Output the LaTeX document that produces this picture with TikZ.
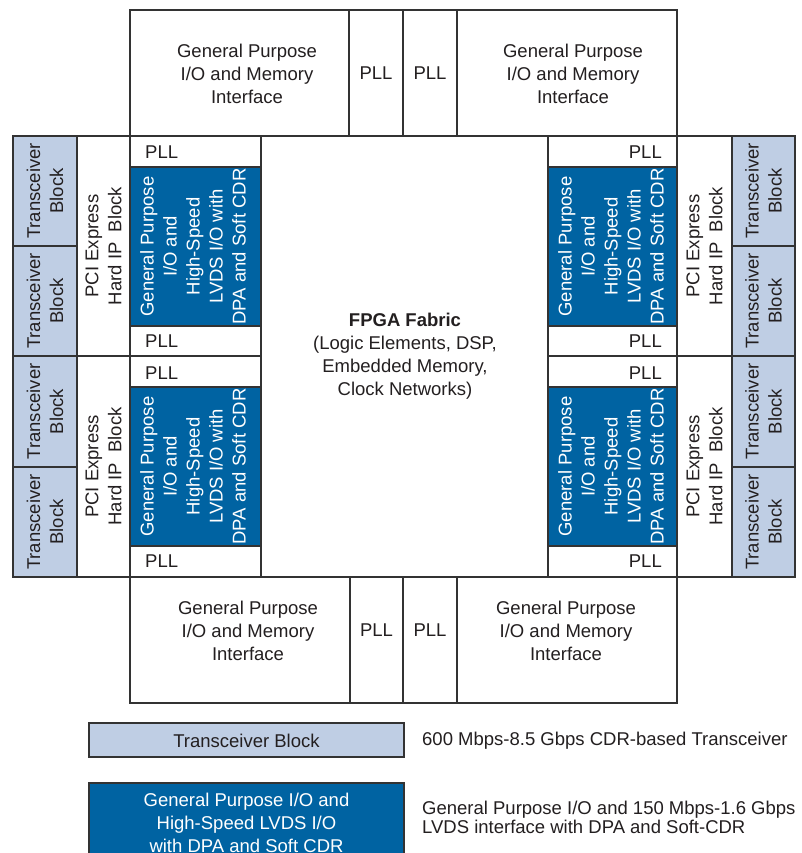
\documentclass[tikz,border=0pt]{standalone}
\usepackage{fontspec}
\setmainfont{Liberation Sans}
\definecolor{lineC}{HTML}{333333}
\definecolor{txtC}{HTML}{231F20}
\definecolor{dpaBlue}{HTML}{0063A2}
\definecolor{xcvrBlue}{HTML}{BFCEE4}
\tikzset{
  box/.style={draw=lineC, line width=1.3pt, rectangle, inner sep=0pt, fill=white},
  xcvr/.style={box, fill=xcvrBlue},
  dpa/.style={box, fill=dpaBlue},
  lbl/.style={inner sep=0pt, text=txtC, align=center, font=\fontsize{18.5}{23}\selectfont},
  wlbl/.style={lbl, text=white},
  rlbl/.style={lbl, rotate=90},
  rwlbl/.style={wlbl, rotate=90},
}
\begin{document}
\begin{tikzpicture}[x=1pt, y=-1pt]
\useasboundingbox (0,0) rectangle (801,853);
\fill[white] (0,0) rectangle (801,853);

% ---- top block
\node[box, minimum width=219pt, minimum height=126pt] (tgl) at (239.5,73) {};
\node[box, minimum width=54pt, minimum height=126pt] (tp1) at (376,73) {};
\node[box, minimum width=54pt, minimum height=126pt] (tp2) at (430,73) {};
\node[box, minimum width=220pt, minimum height=126pt] (tgr) at (567,73) {};
\node[lbl] (tglt) at (247,74) {General Purpose\\I/O and Memory\\Interface};
\node[lbl] (tp1t) at (376,73) {PLL};
\node[lbl] (tp2t) at (430,73) {PLL};
\node[lbl] (tgrt) at (573,74) {General Purpose\\I/O and Memory\\Interface};

% ---- bottom block
\node[box, minimum width=220pt, minimum height=126pt] (bgl) at (240,640) {};
\node[box, minimum width=53pt, minimum height=126pt] (bp1) at (376.5,640) {};
\node[box, minimum width=54pt, minimum height=126pt] (bp2) at (430,640) {};
\node[box, minimum width=220pt, minimum height=126pt] (bgr) at (567,640) {};
\node[lbl] (bglt) at (248,631) {General Purpose\\I/O and Memory\\Interface};
\node[lbl] (bp1t) at (376.5,630) {PLL};
\node[lbl] (bp2t) at (430,630) {PLL};
\node[lbl] (bgrt) at (566,631) {General Purpose\\I/O and Memory\\Interface};

% ---- left transceivers
\node[xcvr, minimum width=64pt, minimum height=110pt] (lx1) at (45,191) {};
\node[xcvr, minimum width=64pt, minimum height=110pt] (lx2) at (45,301) {};
\node[xcvr, minimum width=64pt, minimum height=111pt] (lx3) at (45,411.5) {};
\node[xcvr, minimum width=64pt, minimum height=110pt] (lx4) at (45,522) {};
\foreach \n/\y in {lx1/191,lx2/301,lx3/411.5,lx4/522}
  \node[rlbl] (\n t) at (45,\y) {Transceiver\\Block};

% ---- left PCIe
\node[box, minimum width=53pt, minimum height=220pt] (lpa) at (103.5,246) {};
\node[box, minimum width=53pt, minimum height=221pt] (lpb) at (103.5,466.5) {};
\node[rlbl] (lpat) at (103.5,246) {PCI Express\\Hard IP\ \ Block};
\node[rlbl] (lpbt) at (103.5,466.5) {PCI Express\\Hard IP\ \ Block};

% ---- left PLL / DPA columns
\node[box, minimum width=131pt, minimum height=31pt] (lq1) at (195.5,151.5) {};
\node[dpa, minimum width=131pt, minimum height=159pt] (ld1) at (195.5,246.5) {};
\node[box, minimum width=131pt, minimum height=30pt] (lq2) at (195.5,341) {};
\node[box, minimum width=131pt, minimum height=31pt] (lq3) at (195.5,371.5) {};
\node[dpa, minimum width=131pt, minimum height=159pt] (ld2) at (195.5,466.5) {};
\node[box, minimum width=131pt, minimum height=31pt] (lq4) at (195.5,561.5) {};
\foreach \n/\y in {lq1/152,lq2/341,lq3/373,lq4/561}
  \node[lbl, anchor=west] (\n t) at (145,\y) {PLL};
\node[rwlbl] (ld1t) at (193,246.5) {General Purpose\\I/O and\\High-Speed\\LVDS I/O with\\DPA and Soft CDR};
\node[rwlbl] (ld2t) at (193,466.5) {General Purpose\\I/O and\\High-Speed\\LVDS I/O with\\DPA and Soft CDR};

% ---- right PLL / DPA columns
\node[box, minimum width=129pt, minimum height=31pt] (rq1) at (612.5,151.5) {};
\node[dpa, minimum width=129pt, minimum height=159pt] (rd1) at (612.5,246.5) {};
\node[box, minimum width=129pt, minimum height=30pt] (rq2) at (612.5,341) {};
\node[box, minimum width=129pt, minimum height=31pt] (rq3) at (612.5,371.5) {};
\node[dpa, minimum width=129pt, minimum height=159pt] (rd2) at (612.5,466.5) {};
\node[box, minimum width=129pt, minimum height=31pt] (rq4) at (612.5,561.5) {};
\foreach \n/\y in {rq1/152,rq2/341,rq3/373,rq4/561}
  \node[lbl, anchor=east] (\n t) at (662,\y) {PLL};
\node[rwlbl] (rd1t) at (611,246.5) {General Purpose\\I/O and\\High-Speed\\LVDS I/O with\\DPA and Soft CDR};
\node[rwlbl] (rd2t) at (611,466.5) {General Purpose\\I/O and\\High-Speed\\LVDS I/O with\\DPA and Soft CDR};

% ---- right PCIe
\node[box, minimum width=55pt, minimum height=220pt] (rpa) at (704.5,246) {};
\node[box, minimum width=55pt, minimum height=221pt] (rpb) at (704.5,466.5) {};
\node[rlbl] (rpat) at (704.5,246) {PCI Express\\Hard IP\ \ Block};
\node[rlbl] (rpbt) at (704.5,466.5) {PCI Express\\Hard IP\ \ Block};

% ---- right transceivers
\node[xcvr, minimum width=63pt, minimum height=110pt] (rx1) at (763.5,191) {};
\node[xcvr, minimum width=63pt, minimum height=110pt] (rx2) at (763.5,301) {};
\node[xcvr, minimum width=63pt, minimum height=111pt] (rx3) at (763.5,411.5) {};
\node[xcvr, minimum width=63pt, minimum height=110pt] (rx4) at (763.5,522) {};
\foreach \n/\y in {rx1/191,rx2/301,rx3/411.5,rx4/522}
  \node[rlbl] (\n t) at (763.5,\y) {Transceiver\\Block};

% ---- fabric
\node[lbl] (fab) at (405,356) {\textbf{FPGA Fabric}\\(Logic Elements, DSP,\\Embedded Memory,\\Clock Networks)};

% ---- legend
\node[xcvr, minimum width=315pt, minimum height=34pt] (lg1) at (246.5,740) {};
\node[lbl] (lg1t) at (246.5,741) {Transceiver Block};
\node[dpa, minimum width=315pt, minimum height=80pt] (lg2) at (246.5,823) {};
\node[wlbl] (lg2t) at (246.5,823) {General Purpose I/O and\\High-Speed LVDS I/O\\with DPA and Soft CDR};
\node[lbl, anchor=west] (lg1d) at (422,741) {600 Mbps-8.5 Gbps CDR-based Transceiver};
\node[lbl, anchor=west, align=left, font=\fontsize{18.5}{19}\selectfont] (lg2d) at (422,817.5) {General Purpose I/O and 150 Mbps-1.6 Gbps\\LVDS interface with DPA and Soft-CDR};
\end{tikzpicture}
\end{document}
